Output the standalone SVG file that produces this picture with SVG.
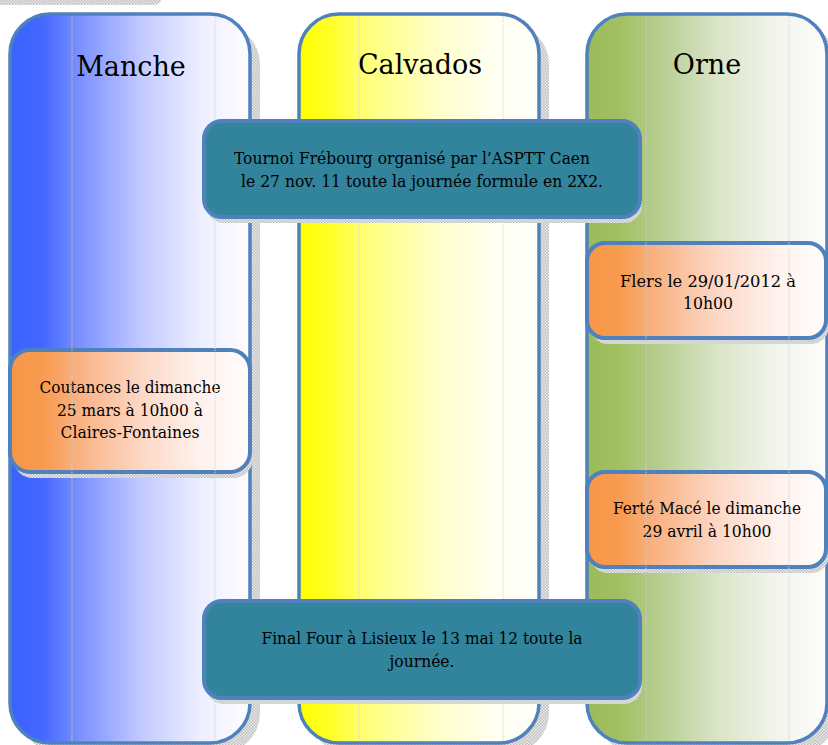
<svg xmlns="http://www.w3.org/2000/svg" width="828" height="745" viewBox="0 0 828 745">
<defs>
<pattern id="hatch" width="3" height="3" patternUnits="userSpaceOnUse">
<rect width="3" height="3" fill="#ececec"/>
<rect width="1.5" height="1.5" fill="#bdbdbd"/>
<rect x="1.5" y="1.5" width="1.5" height="1.5" fill="#bdbdbd"/>
</pattern>
<linearGradient id="gBlue" x1="0" y1="0" x2="1" y2="0">
<stop offset="0" stop-color="#3a62ff"/>
<stop offset="0.14" stop-color="#4568ff"/>
<stop offset="0.3" stop-color="#7d93ff"/>
<stop offset="0.55" stop-color="#c3caff"/>
<stop offset="0.8" stop-color="#eeefff"/>
<stop offset="1" stop-color="#fdfdff"/>
</linearGradient>
<linearGradient id="gYellow" x1="0" y1="0" x2="1" y2="0">
<stop offset="0" stop-color="#ffff00"/>
<stop offset="0.14" stop-color="#ffff2a"/>
<stop offset="0.3" stop-color="#ffff80"/>
<stop offset="0.55" stop-color="#ffffc4"/>
<stop offset="0.8" stop-color="#fffff0"/>
<stop offset="1" stop-color="#fffffd"/>
</linearGradient>
<linearGradient id="gGreen" x1="0" y1="0" x2="1" y2="0">
<stop offset="0" stop-color="#9bbb59"/>
<stop offset="0.14" stop-color="#a2c063"/>
<stop offset="0.3" stop-color="#b6cd8e"/>
<stop offset="0.55" stop-color="#dbe5c8"/>
<stop offset="0.8" stop-color="#f3f5ee"/>
<stop offset="1" stop-color="#fcfcfc"/>
</linearGradient>
<linearGradient id="gOrange" x1="0" y1="0" x2="1" y2="0">
<stop offset="0" stop-color="#f79646"/>
<stop offset="0.14" stop-color="#f89b50"/>
<stop offset="0.3" stop-color="#f9b486"/>
<stop offset="0.55" stop-color="#fcd8c6"/>
<stop offset="0.8" stop-color="#fff2ee"/>
<stop offset="1" stop-color="#fffdfc"/>
</linearGradient>
</defs>
<style>
.col{stroke:#4f81bd;stroke-width:3.5}
.shadow{fill:url(#hatch)}
.teal{fill:#31849b;stroke:#4f81bd;stroke-width:4}
.orange{fill:url(#gOrange);stroke:#4f81bd;stroke-width:4}
.guide{stroke:#cfcfcf;stroke-width:1;stroke-dasharray:1 1}
.title{font-family:"DejaVu Serif","Liberation Serif",serif;font-size:27px;fill:#000;text-anchor:middle}
.body{font-family:"DejaVu Serif","Liberation Serif",serif;font-size:16px;fill:#000;text-anchor:middle}
</style>
<rect width="828" height="745" fill="#ffffff"/>
<rect x="-20" y="-30" width="182" height="35" rx="8" class="shadow"/>

<g id="column-shadows">
<rect x="20" y="24" width="240" height="729" rx="40" class="shadow"/>
<rect x="309" y="24" width="240" height="729" rx="40" class="shadow"/>
<rect x="597" y="24" width="240" height="729" rx="40" class="shadow"/>
</g>

<g id="col-manche">
<rect x="10" y="14" width="240" height="729" rx="40" fill="url(#gBlue)" class="col"/>
<text class="title" x="131" y="76">Manche</text>
</g>
<g id="col-calvados">
<rect x="299" y="14" width="240" height="729" rx="40" fill="url(#gYellow)" class="col"/>
<text class="title" x="420" y="74">Calvados</text>
</g>
<g id="col-orne">
<rect x="587" y="14" width="240" height="729" rx="40" fill="url(#gGreen)" class="col"/>
<text class="title" x="707" y="74">Orne</text>
</g>

<g id="box-coutances">
<rect x="13" y="356" width="240" height="122" rx="20" class="shadow"/>
<rect x="10" y="350" width="240" height="122" rx="20" class="orange"/>
<text class="body" x="130" y="393" textLength="181" lengthAdjust="spacingAndGlyphs">Coutances le dimanche</text>
<text class="body" x="130" y="416" textLength="146" lengthAdjust="spacingAndGlyphs">25 mars à 10h00 à</text>
<text class="body" x="130" y="438" textLength="139" lengthAdjust="spacingAndGlyphs">Claires-Fontaines</text>
</g>
<g id="box-flers">
<rect x="590" y="249" width="239" height="95" rx="18" class="shadow"/>
<rect x="587" y="243" width="239" height="95" rx="18" class="orange"/>
<text class="body" x="708" y="287" textLength="176" lengthAdjust="spacingAndGlyphs">Flers le 29/01/2012 à</text>
<text class="body" x="708" y="309" textLength="50" lengthAdjust="spacingAndGlyphs">10h00</text>
</g>
<g id="box-ferte">
<rect x="590" y="478" width="239" height="95" rx="18" class="shadow"/>
<rect x="587" y="472" width="239" height="95" rx="18" class="orange"/>
<text class="body" x="707" y="514" textLength="188" lengthAdjust="spacingAndGlyphs">Ferté Macé le dimanche</text>
<text class="body" x="707" y="537" textLength="129" lengthAdjust="spacingAndGlyphs">29 avril à 10h00</text>
</g>

<g id="guides">
<line class="guide" x1="72" y1="16" x2="72" y2="742"/>
<line class="guide" x1="215" y1="16" x2="215" y2="742"/>
<line class="guide" x1="359" y1="16" x2="359" y2="742"/>
<line class="guide" x1="503" y1="16" x2="503" y2="742"/>
<line class="guide" x1="646" y1="16" x2="646" y2="742"/>
<line class="guide" x1="789" y1="16" x2="789" y2="742"/>
</g>

<g id="box-tournoi">
<rect x="206" y="127" width="436" height="96" rx="18" class="shadow"/>
<rect x="204" y="121" width="436" height="96" rx="18" class="teal"/>
<text class="body" x="412" y="164" textLength="356" lengthAdjust="spacingAndGlyphs">Tournoi Frébourg organisé par l’ASPTT Caen</text>
<text class="body" x="422" y="187" textLength="362" lengthAdjust="spacingAndGlyphs">le 27 nov. 11 toute la journée formule en 2X2.</text>
</g>
<g id="box-final">
<rect x="206" y="607" width="436" height="97" rx="18" class="shadow"/>
<rect x="204" y="601" width="436" height="97" rx="18" class="teal"/>
<text class="body" x="422" y="644" textLength="321" lengthAdjust="spacingAndGlyphs">Final Four à Lisieux le 13 mai 12 toute la</text>
<text class="body" x="422" y="667" textLength="65" lengthAdjust="spacingAndGlyphs">journée.</text>
</g>
</svg>
